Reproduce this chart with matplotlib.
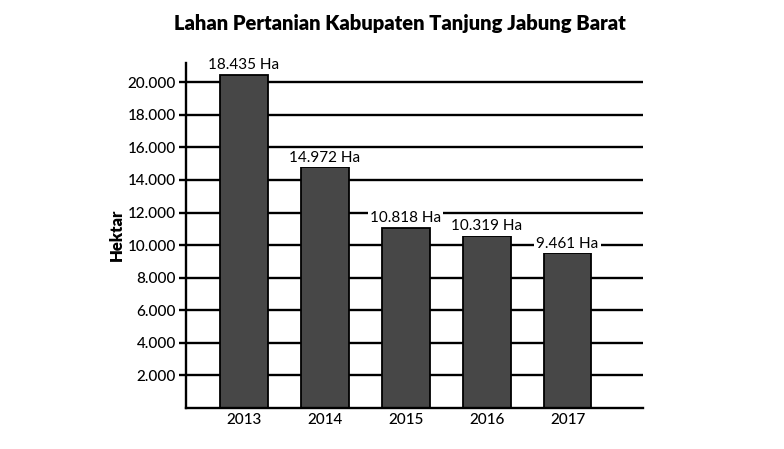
import matplotlib.pyplot as plt

years = ["2013", "2014", "2015", "2016", "2017"]
bar_heights = [20470, 14770, 11070, 10560, 9500]
# the printed value labels
value_labels = ["18.435 Ha", "14.972 Ha", "10.818 Ha", "10.319 Ha", "9.461 Ha"]
yticks = [2000, 4000, 6000, 8000, 10000, 12000, 14000, 16000, 18000, 20000]
ytick_labels = ["2.000", "4.000", "6.000", "8.000", "10.000",
                "12.000", "14.000", "16.000", "18.000", "20.000"]

plt.rcParams["font.family"] = ["Lato", "DejaVu Sans"]

fig = plt.figure(figsize=(7.84, 4.49), dpi=100)
ax = fig.add_axes([0.237, 0.092, 0.583, 0.768])

x = range(len(years))
for yv in yticks:
    ax.axhline(yv, color="black", linewidth=1.7, zorder=1)
ax.bar(x, bar_heights, width=0.59, color="#474747", edgecolor="black",
       linewidth=1.3, zorder=2)

for xi, h, lab in zip(x, bar_heights, value_labels):
    ax.text(xi, h + 150, lab, ha="center", va="bottom", fontsize=11,
            zorder=3, bbox=dict(facecolor="white", edgecolor="none", pad=1.5))

ax.set_xlim(-0.716, 4.93)
ax.set_ylim(0, 21200)
ax.set_yticks(yticks)
ax.set_yticklabels(ytick_labels, fontsize=11, fontweight="medium")
ax.set_xticks(list(x))
ax.set_xticklabels(years, fontsize=11, fontweight="medium")
ax.tick_params(axis="y", length=5, width=1.7, color="black", pad=2)
ax.tick_params(axis="x", length=0, pad=4)

for side in ["top", "right"]:
    ax.spines[side].set_visible(False)
ax.spines["left"].set_linewidth(1.7)
ax.spines["bottom"].set_linewidth(1.7)

ax.set_ylabel("Hektar", fontsize=12, fontweight="heavy", labelpad=2)
fig.suptitle("Lahan Pertanian Kabupaten Tanjung Jabung Barat",
             x=0.51, y=0.968, fontsize=14.5, fontweight="heavy")

fig.savefig("out.png", dpi=100)
